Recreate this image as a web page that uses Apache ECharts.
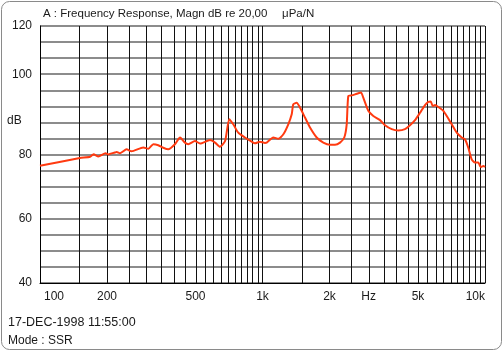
<!DOCTYPE html>
<html>
<head>
<meta charset="utf-8">
<script src="https://cdn.jsdelivr.net/npm/echarts@6/dist/echarts.min.js"></script>
<style>
  html, body { margin: 0; padding: 0; background: #fff; }
  #chart { width: 504px; height: 352px; }
</style>
</head>
<body>
<div id="chart"></div>
<script>
// frequency response (Hz / dB)
const freqs = [100, 151, 168, 174, 183, 197, 203, 206, 217, 221, 229, 245, 258, 291, 307, 323, 340, 358, 377,
  404, 426, 448, 464, 497, 524, 581, 612, 644, 679, 709, 739, 778, 834, 894, 925, 974,
  1026, 1044, 1118, 1178, 1241, 1306, 1353, 1375, 1424, 1474, 1552, 1635, 1752, 1876, 2011, 2118, 2230,
  2331, 2390, 2430, 2517, 2651, 2772, 2838, 2989, 3148, 3374, 3553, 3808, 4077, 4369, 4602, 4847,
  5106, 5375, 5562, 5702, 5821, 5962, 6168, 6496, 6730, 7086, 7463, 7860, 8131, 8413, 8713, 9018,
  9332, 9566, 9827, 10000]
const magnitude = [76.5, 78.9, 79.3, 80.1, 79.4, 80.4, 80.0, 80.2, 80.6, 80.8, 80.4, 81.6, 81.0, 82.2, 81.8, 83.2, 82.9, 82.1, 81.6,
  83.2, 85.3, 83.7, 83.2, 84.2, 83.4, 84.5, 83.7, 82.4, 84.2, 91.0, 89.4, 86.8, 85.3, 84.0, 83.5, 84.0,
  83.6, 83.7, 85.3, 84.9, 86.3, 89.4, 92.5, 95.6, 96.1, 94.6, 91.5, 88.4, 85.3, 83.7, 83.0, 83.0, 83.7,
  85.3, 89.4, 98.2, 98.4, 98.9, 99.3, 97.7, 93.6, 92.0, 90.7, 89.1, 87.9, 87.5, 87.9, 89.1, 90.7,
  93.0, 95.4, 96.4, 96.5, 95.1, 95.4, 94.8, 93.6, 92.0, 89.4, 86.8, 85.3, 84.7, 82.1, 78.5, 77.5,
  77.5, 76.1, 76.4, 76.1]

// x tick labels ("Hz" sits in the label row near 3k)
const xLabelValues = [100, 200, 500, 1000, 2000, 3000, 5000, 10000]
const xLabelTexts = ['100', '200', '500', '1k', '2k', 'Hz', '5k', '10k']

// y labels as printed on the original (grid every 5 dB)
const yLabelValues = [120, 105, 80, 60, 40]
const yLabelTexts = ['120', '100', '80', '60', '40']

// vertical grid: every 50 Hz below 1k, every 500 Hz above
const gridFreqs = []
for (let f = 150; f <= 1000; f += 50) gridFreqs.push(f)
for (let f = 1500; f <= 10000; f += 500) gridFreqs.push(f)

const font = 'Liberation Sans, Arial, sans-serif'
const textColor = '#1a1a1a'

const chart = echarts.init(document.getElementById('chart'))

chart.setOption({
  animation: false,
  grid: { left: 40, top: 26, width: 445, height: 257 },
  graphic: [
    {
      type: 'rect',
      shape: { x: 1.5, y: 1.5, width: 500, height: 348, r: 8 },
      style: { fill: 'none', stroke: '#8a8a8a', lineWidth: 1 },
      silent: true
    },
    {
      type: 'text', x: 43, y: 14,
      style: { text: 'A : Frequency Response, Magn dB re 20,00', font: '11.5px ' + font, fill: textColor, verticalAlign: 'middle' }
    },
    {
      type: 'text', x: 282, y: 14,
      style: { text: 'μPa/N', font: '11.5px ' + font, fill: textColor, verticalAlign: 'middle' }
    },
    {
      type: 'text', x: 7, y: 121,
      style: { text: 'dB', font: '12px ' + font, fill: textColor, verticalAlign: 'middle' }
    },
    {
      type: 'text', x: 8, y: 323,
      style: { text: '17-DEC-1998 11:55:00', font: '12.5px ' + font, fill: textColor, verticalAlign: 'middle' }
    },
    {
      type: 'text', x: 8, y: 341,
      style: { text: 'Mode : SSR', font: '12px ' + font, fill: textColor, verticalAlign: 'middle' }
    }
  ],
  xAxis: {
    type: 'log',
    logBase: 10,
    min: 100,
    max: 10000,
    axisLine: { lineStyle: { color: '#000', width: 1 } },
    axisTick: { show: false },
    splitLine: { show: false },
    minorSplitLine: { show: false },
    axisLabel: {
      customValues: xLabelValues,
      margin: 8,
      color: textColor,
      fontSize: 12,
      fontFamily: font,
      alignMinLabel: 'left',
      alignMaxLabel: 'right',
      rich: { first: { padding: [0, 0, 0, 4], fontSize: 12, fontFamily: font, color: textColor } },
      formatter: function (v) {
        for (let i = 0; i < xLabelValues.length; i++) {
          if (Math.abs(Math.log10(v) - Math.log10(xLabelValues[i])) < 0.005) {
            return i === 0 ? '{first|' + xLabelTexts[i] + '}' : xLabelTexts[i]
          }
        }
        return ''
      }
    }
  },
  yAxis: {
    type: 'value',
    min: 40,
    max: 120,
    interval: 5,
    axisLine: { show: true, lineStyle: { color: '#000', width: 1 } },
    axisTick: { show: false },
    splitLine: { lineStyle: { color: '#8c8c8c', width: 2 } },
    axisLabel: {
      margin: 8,
      color: textColor,
      fontSize: 12,
      fontFamily: font,
      formatter: function (v) {
        const i = yLabelValues.indexOf(v)
        return i >= 0 ? yLabelTexts[i] : ''
      }
    }
  },
  series: [
    {
      type: 'custom',
      silent: true,
      z: 1,
      data: gridFreqs.map(f => [f, 40]),
      renderItem: function (params, api) {
        const top = api.coord([api.value(0), 120])
        const bottom = api.coord([api.value(0), 40])
        const x = Math.round(top[0]) + 0.5
        return {
          type: 'line',
          shape: { x1: x, y1: top[1], x2: x, y2: bottom[1] },
          style: { stroke: '#111', lineWidth: 1 }
        }
      }
    },
    {
      type: 'line',
      z: 3,
      data: freqs.map((f, i) => [f, magnitude[i]]),
      showSymbol: false,
      smooth: 0.2,
      lineStyle: { color: '#ff3a10', width: 2 },
      silent: true
    }
  ]
})
</script>
</body>
</html>
